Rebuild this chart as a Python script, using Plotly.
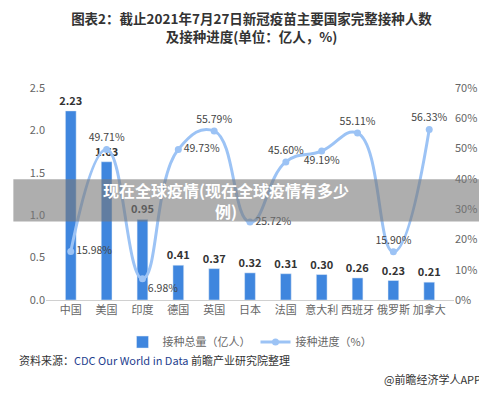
import plotly.graph_objects as go

countries = ["中国","美国","印度","德国","英国","日本","法国","意大利","西班牙","俄罗斯","加拿大"]
doses = [2.23,1.63,0.95,0.41,0.37,0.32,0.31,0.30,0.26,0.23,0.21]
progress = [15.98,49.71,6.98,49.73,55.79,25.72,45.60,49.19,55.11,15.90,56.33]
pos = ["middle right","top center","bottom right","middle right","top center","middle right",
       "top center","bottom center","top center","top center","top center"]

font = "Noto Sans CJK SC"
fig = go.Figure()
fig.add_bar(x=countries, y=doses, name="接种总量（亿人）", marker_color="#3F86DE", width=0.3,
            text=[f"<b>{v:.2f}</b>" for v in doses], textposition="outside", constraintext="none",
            textfont=dict(size=11, color="#333", family=font), cliponaxis=False)
fig.add_scatter(x=countries, y=progress, yaxis="y2", name="接种进度（%）", mode="lines+markers+text",
                line=dict(color="#9CC3F5", width=3, shape="spline", smoothing=1.3),
                marker=dict(size=7, color="#9CC3F5"),
                text=[f"{v:.2f}%" for v in progress], textposition=pos,
                textfont=dict(size=10.5, color="#444", family=font), cliponaxis=False)

fig.update_layout(
    width=487, height=402, margin=dict(l=38, r=41, t=80, b=110),
    paper_bgcolor="white", plot_bgcolor="white", font=dict(family=font, color="#555"),
    title=dict(text="<b>图表2：截止2021年7月27日新冠疫苗主要国家完整接种人数<br>及接种进度(单位：亿人，%)</b>",
               x=0.5, y=0.96, yanchor="top", font=dict(size=13.5, color="#333")),
    xaxis=dict(tickfont=dict(size=11, color="#666"), showline=True, linecolor="#d0d0d0", ticks=""),
    yaxis=dict(range=[0,2.5], dtick=0.5, tickformat=".1f", showgrid=False, zeroline=False,
               tickfont=dict(size=11, color="#666")),
    yaxis2=dict(range=[0,70], dtick=10, ticksuffix="%", overlaying="y", side="right", showgrid=False,
                zeroline=False, tickfont=dict(size=11, color="#666")),
    legend=dict(orientation="h", x=0.5, xanchor="center", y=-0.13, yanchor="top",
                font=dict(size=11, color="#666")),
    bargap=0.5, showlegend=True,
)
fig.add_shape(type="rect", xref="paper", yref="paper", x0=-0.08, x1=1.1, y0=0.37, y1=0.57,
              fillcolor="rgba(120,120,120,0.6)", line_width=0, layer="above")
fig.add_annotation(text="<b>现在全球疫情(现在全球疫情有多少<br>例)</b>", xref="paper", yref="paper",
                   x=0.44, y=0.47, showarrow=False, font=dict(size=16, color="white"))
fig.add_annotation(text="资料来源：<span style='color:#1f3f8f'>CDC Our World in Data</span> 前瞻产业研究院整理",
                   xref="paper", yref="paper", x=-0.07, xanchor="left", y=-0.33, showarrow=False,
                   font=dict(size=11, color="#333"))
fig.add_annotation(text="@前瞻经济学人APP", xref="paper", yref="paper", x=1.07, xanchor="right",
                   y=-0.42, showarrow=False, font=dict(size=11, color="#333"))
fig.write_html("out.html")
